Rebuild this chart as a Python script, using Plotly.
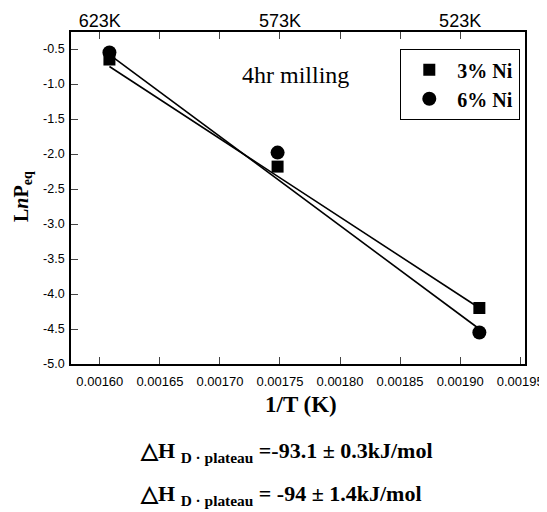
import plotly.graph_objects as go

# Data
inv_T = [0.001608, 0.001748, 0.001916]
ni3_lnp = [-0.65, -2.18, -4.20]
ni6_lnp = [-0.55, -1.98, -4.55]
ni3_fit = [-0.75, -4.20]   # fitted line values at first and last 1/T
ni6_fit = [-0.58, -4.50]
series_names = ["3% Ni", "6% Ni"]
x_ticks = [0.00160, 0.00165, 0.00170, 0.00175, 0.00180, 0.00185, 0.00190, 0.00195]
x_ticklabels = ["0.00160", "0.00165", "0.00170", "0.00175", "0.00180", "0.00185", "0.00190", "0.00195"]
y_ticks = [-0.5, -1.0, -1.5, -2.0, -2.5, -3.0, -3.5, -4.0, -4.5, -5.0]
y_ticklabels = ["-0.5", "-1.0", "-1.5", "-2.0", "-2.5", "-3.0", "-3.5", "-4.0", "-4.5", "-5.0"]
top_ticks = [0.00160, 0.00165, 0.00170, 0.00175, 0.00180, 0.00185, 0.00190]
top_ticklabels = ["623K", "", "", "573K", "", "", "523K"]
enthalpy_texts = ["△H <sub>D · plateau</sub> =-93.1 ± 0.3kJ/mol",
                  "△H <sub>D · plateau</sub> = -94 ± 1.4kJ/mol"]

SERIF = "Liberation Serif, Times New Roman"
fig = go.Figure()
fit_x = [inv_T[0], inv_T[-1]]
for fy in (ni3_fit, ni6_fit):
    fig.add_trace(go.Scatter(x=fit_x, y=fy, mode="lines",
                             line=dict(color="black", width=1.6), showlegend=False,
                             hoverinfo="skip"))
fig.add_trace(go.Scatter(x=inv_T, y=ni3_lnp, mode="markers", name="<b>" + series_names[0] + "</b>",
                         marker=dict(symbol="square", size=12, color="black")))
fig.add_trace(go.Scatter(x=inv_T, y=ni6_lnp, mode="markers", name="<b>" + series_names[1] + "</b>",
                         marker=dict(symbol="circle", size=14, color="black")))
# invisible trace to activate top axis
fig.add_trace(go.Scatter(x=[x_ticks[0]], y=[y_ticks[0]], xaxis="x2", mode="markers",
                         marker=dict(opacity=0), showlegend=False, hoverinfo="skip"))

xr = [0.001576, 0.001954]
OFF = 8  # page body margin
L, R, T, B = 63, 30, 24, 156
PW, PH = 547 - L - R, 512 - T - B


def px(X):
    return (X - OFF - L) / PW


def py(Y):
    return (512 - B - (Y - OFF)) / PH


axis_common = dict(ticks="inside", ticklen=7, tickwidth=1.3, showgrid=False, zeroline=False,
                   automargin=False)
fig.update_layout(
    width=547, height=512,
    margin=dict(l=L, r=R, t=T, b=B, autoexpand=False),
    paper_bgcolor="white", plot_bgcolor="white",
    font=dict(family="Liberation Sans, Arial", color="black"),
    xaxis=dict(range=xr, tickvals=x_ticks, ticktext=x_ticklabels, showline=True,
               linecolor="black", linewidth=1.8, mirror=True, tickfont=dict(size=13),
               ticklabelstandoff=4, **axis_common),
    xaxis2=dict(range=xr, overlaying="x", side="top", tickvals=top_ticks, ticktext=top_ticklabels,
                tickfont=dict(size=18), showline=False, ticklabelstandoff=0, **axis_common),
    yaxis=dict(range=[-5.0, -0.257], tickvals=y_ticks, ticktext=y_ticklabels, showline=True,
               linecolor="black", linewidth=1.8, mirror=True, tickfont=dict(size=12.5),
               ticklabelstandoff=2, **axis_common),
    legend=dict(x=px(520), y=py(49), xanchor="right", yanchor="top",
                bordercolor="black", borderwidth=1.3, bgcolor="white",
                font=dict(family=SERIF, size=20, color="black"),
                itemwidth=46, tracegroupgap=0),
)
fig.add_annotation(text="<b>1/T (K)</b>", xref="paper", yref="paper", x=px(301),
                   y=py(404), xanchor="center", yanchor="middle", showarrow=False,
                   font=dict(family=SERIF, size=23))
fig.add_annotation(text="<b>L<i>n</i>P<sub>eq</sub></b>", xref="paper", yref="paper",
                   x=px(22), y=py(197), xanchor="center", yanchor="middle",
                   textangle=-90, showarrow=False, font=dict(family=SERIF, size=20))
fig.add_annotation(text="4hr milling", xref="paper", yref="paper", x=px(295), y=py(75),
                   xanchor="center", yanchor="middle", showarrow=False,
                   font=dict(family=SERIF, size=24))
for i, t in enumerate(enthalpy_texts):
    fig.add_annotation(text="<b>" + t + "</b>", xref="paper", yref="paper",
                       x=px(138), xanchor="left",
                       y=py([452, 495][i]), yanchor="middle", showarrow=False,
                       font=dict(family=SERIF, size=22))
fig.write_html("out.html")
